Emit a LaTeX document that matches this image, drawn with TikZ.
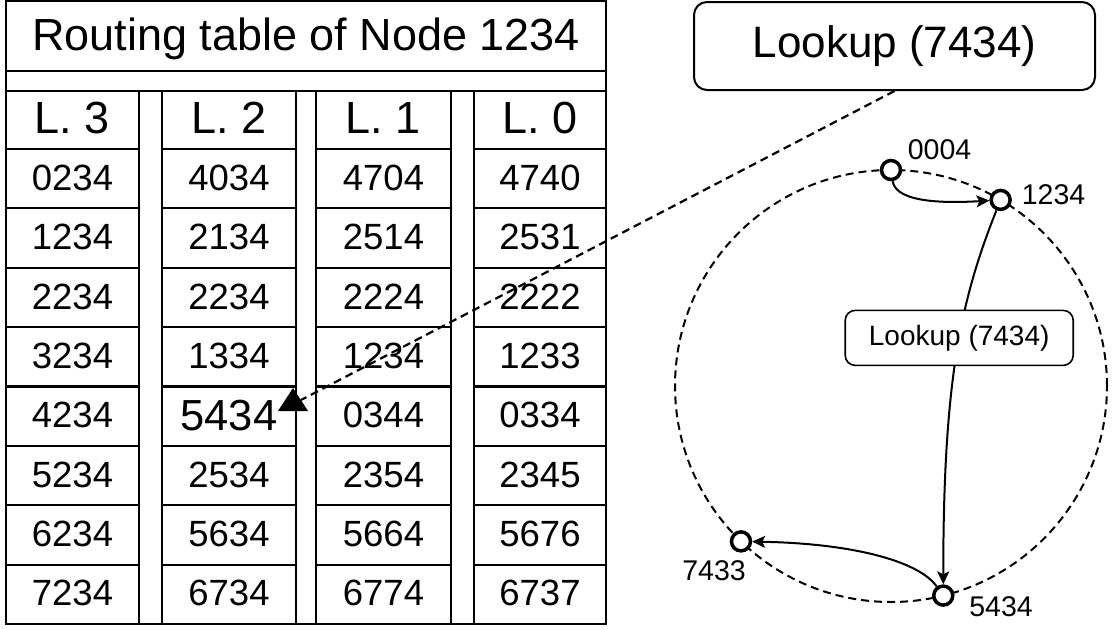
\documentclass[tikz,border=0pt]{standalone}
\usepackage{fontspec}
\setmainfont{Liberation Sans}
\usetikzlibrary{arrows.meta}
\newcommand\fsz[1]{\fontsize{#1}{#1}\selectfont}
\begin{document}
\begin{tikzpicture}[x=1pt,y=1pt,
  tbl/.style={line width=2.2pt},
  ttl/.style={font=\fsz{45}, inner sep=0pt, anchor=base},
  head/.style={font=\fsz{45}, inner sep=0pt, anchor=base},
  cell/.style={font=\fsz{36.5}, inner sep=0pt},
  ring/.style={line width=2pt, dash pattern=on 8pt off 5pt},
  peer/.style={circle, draw, fill=white, line width=3.5pt, minimum size=19pt, inner sep=0pt},
  peerlbl/.style={font=\fsz{28.5}, inner sep=0pt},
  hop/.style={line width=2pt, -{Stealth[length=13pt,width=12pt,inset=3pt]}},
  query/.style={draw, fill=white, rounded corners=13pt, line width=2pt, inner sep=0pt},
  link/.style={line width=2.2pt, dash pattern=on 8pt off 5pt}
]
\useasboundingbox (0,0) rectangle (1113,-629);

% ---- routing table frame and title ----
\draw[tbl] (6,-1) rectangle (606,-624);
\draw[tbl] (6,-71) -- (606,-71);
\draw[tbl] (6,-91) -- (606,-91);
\node[ttl] (title) at (306,-50) {Routing table of Node 1234};

% ---- one column per level, entries top to bottom ----
\foreach \xl/\xr/\lv/\col [count=\c] in {
    6/139/3/{0234,1234,2234,3234,4234,5234,6234,7234},
    162/296/2/{4034,2134,2234,1334,{\fsz{43.5}5434},2534,5634,6734},
    316/451/1/{4704,2514,2224,1234,0344,2354,5664,6774},
    474/606/0/{4740,2531,2222,1233,0334,2345,5676,6737}}{
  \draw[tbl] (\xl,-91) rectangle (\xr,-624);
  \foreach \k in {0,...,7}
    \draw[tbl] (\xl,{-149-59.375*\k}) -- (\xr,{-149-59.375*\k});
  \node[head] (h\c) at ({(\xl+\xr)/2},-133) {L. \lv};
  \foreach \e [count=\r] in \col
    \node[cell] (e\c-\r) at ({(\xl+\xr)/2},{-149-59.375*(\r-0.5)+1}) {\e};
}

% ---- identifier ring ----
\coordinate (ctr) at (891,-386);
\draw[ring] (ctr) circle[radius=216];
\node[peer] (p0004) at ([shift={(891,-386)}]90:216) {};
\node[peer] (p1234) at ([shift={(891,-386)}]59.5:216) {};
\node[peer] (p5434) at ([shift={(891,-386)}]284:216) {};
\node[peer] (p7433) at ([shift={(891,-386)}]226:216) {};
\node[peerlbl] (l0004) at (939.5,-150) {0004};
\node[peerlbl] (l1234) at (1053.5,-195) {1234};
\node[peerlbl] (l7433) at (714,-571) {7433};
\node[peerlbl] (l5434) at (1001,-607) {5434};

% ---- lookup request ----
\node[query, minimum width=401pt, minimum height=88pt, font=\fsz{44}] (req) at (894.5,-46) {Lookup (7434)};

% ---- routing hops ----
\draw[hop] (p0004) .. controls +(5,-34) and +(-50,-3) .. (p1234);
\draw[hop] (p1234) .. controls +(-40,-100) and +(0,215) ..
  node[query, pos=0.45, line width=1.6pt, rounded corners=10pt, minimum width=228pt, minimum height=55pt, font=\fsz{28}] (mid) {Lookup (7434)} (p5434);
\draw[hop] (p5434) .. controls +(-25,35) and +(110,-2) .. (p7433);

% ---- pointer into the table ----
\coordinate (tip) at (293,-388);
\coordinate (tipend) at (301,-400);
\draw[link] (req.south) -- (tipend);
\fill (tip) -- ++(-15,-23) -- ++(30,0) -- cycle;
\end{tikzpicture}
\end{document}
